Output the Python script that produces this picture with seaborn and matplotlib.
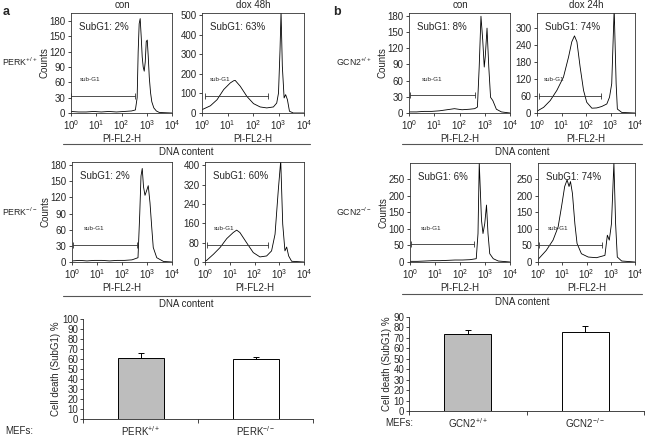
import numpy as np
import matplotlib
matplotlib.use("Agg")
import matplotlib.pyplot as plt
from matplotlib.lines import Line2D
import seaborn as sns

sns.set_style("ticks")
plt.rcParams['font.family'] = ['Liberation Sans', 'DejaVu Sans']
plt.rcParams['mathtext.default'] = 'regular'

W, H = 648, 438

# ---- flow cytometry histograms (x as log10 of PI-FL2-H, y as counts) ----
perk_wt_con_u = [0.0, 0.3, 0.6, 0.9, 1.2, 1.5, 1.8, 2.1, 2.4, 2.55, 2.62, 2.66, 2.70, 2.74,
                 2.78, 2.82, 2.86, 2.90, 2.94, 2.98, 3.02, 3.06, 3.10, 3.15, 3.20, 3.28,
                 3.38, 3.5, 4.0]
perk_wt_con_n = [3, 2, 2, 3, 2, 3, 2, 3, 4, 6, 30, 120, 175, 185,
                 150, 110, 90, 82, 100, 140, 143, 110, 70, 40, 22, 10,
                 4, 1, 0]

perk_wt_dox_u = [0.0, 0.33, 0.59, 0.85, 1.11, 1.24, 1.30, 1.50, 1.76, 2.02, 2.28, 2.54,
                 2.80, 2.93, 3.00, 3.06, 3.10, 3.15, 3.22, 3.28, 3.35, 3.43, 3.58, 4.0]
perk_wt_dox_n = [17, 37, 68, 120, 154, 165, 167, 137, 85, 48, 31, 26,
                 31, 51, 102, 324, 520, 240, 77, 94, 68, 9, 0, 0]

perk_ko_con_u = [0.0, 0.3, 0.6, 0.9, 1.2, 1.5, 1.8, 2.1, 2.4, 2.64, 2.71, 2.76, 2.81,
                 2.86, 2.92, 2.98, 3.05, 3.12, 3.19, 3.25, 3.39, 3.66, 4.0]
perk_ko_con_n = [2, 3, 2, 3, 3, 2, 3, 3, 4, 8, 90, 160, 174,
                 140, 124, 132, 142, 110, 64, 27, 8, 1, 0]

perk_ko_dox_u = [0.0, 0.07, 0.34, 0.61, 0.88, 1.14, 1.28, 1.41, 1.68, 1.95, 2.22, 2.49,
                 2.69, 2.83, 2.96, 3.06, 3.14, 3.23, 3.30, 3.38, 3.50, 4.0]
perk_ko_dox_n = [4, 7, 32, 60, 97, 122, 132, 122, 80, 39, 21, 25,
                 46, 115, 296, 420, 157, 46, 62, 25, 3, 0]

gcn_wt_con_u = [0.0, 0.3, 0.6, 0.9, 1.2, 1.5, 1.8, 2.1, 2.4, 2.6, 2.71, 2.78, 2.85,
                2.92, 2.98, 3.02, 3.09, 3.16, 3.23, 3.32, 3.46, 3.66, 4.0]
gcn_wt_con_n = [2, 2, 3, 3, 4, 6, 8, 6, 7, 8, 11, 85, 179,
                135, 85, 104, 157, 85, 29, 23, 7, 2, 0]

gcn_wt_dox_u = [0.0, 0.03, 0.27, 0.54, 0.81, 1.08, 1.29, 1.42, 1.53, 1.63, 1.76, 1.90,
                2.03, 2.24, 2.44, 2.64, 2.85, 2.96, 3.05, 3.15, 3.23, 3.28, 3.46, 4.0]
gcn_wt_dox_n = [5, 8, 20, 44, 80, 127, 199, 252, 273, 252, 163, 80,
                38, 17, 18, 23, 32, 56, 104, 370, 104, 14, 2, 0]

gcn_ko_con_u = [0.0, 0.3, 0.6, 0.9, 1.2, 1.5, 1.8, 2.1, 2.4, 2.65, 2.72, 2.77, 2.86,
                2.92, 2.99, 3.06, 3.12, 3.19, 3.33, 3.53, 4.0]
gcn_ko_con_n = [2, 2, 3, 4, 4, 5, 6, 6, 7, 10, 86, 300, 126,
                86, 116, 172, 86, 25, 10, 3, 0]

gcn_ko_dox_u = [0.0, 0.03, 0.34, 0.62, 0.83, 0.97, 1.10, 1.20, 1.28, 1.34, 1.42, 1.52,
                1.61, 1.79, 2.07, 2.41, 2.76, 2.86, 2.94, 3.03, 3.13, 3.20, 3.27, 3.45, 4.0]
gcn_ko_dox_n = [6, 10, 35, 66, 106, 167, 228, 248, 228, 243, 207, 116,
                56, 25, 15, 13, 20, 81, 66, 116, 300, 116, 15, 3, 0]

# sub-G1 gates: (left log10, right log10, counts)
perk_wt_con_gate = [0.0, 2.54, 33]
perk_wt_dox_gate = [0.13, 2.6, 85]
perk_ko_con_gate = [0.03, 2.58, 31]
perk_ko_dox_gate = [0.07, 2.56, 69]
gcn_wt_con_gate = [0.04, 2.6, 34]
gcn_wt_dox_gate = [0.07, 2.6, 60]
gcn_ko_con_gate = [0.03, 2.55, 53]
gcn_ko_dox_gate = [0.03, 2.62, 50]

# ---- bar charts ----
perk_labels = ['PERK$^{+/+}$', 'PERK$^{-/-}$']
perk_death = [61.5, 60.0]
perk_err = [4.5, 2.5]
gcn_labels = ['GCN2$^{+/+}$', 'GCN2$^{-/-}$']
gcn_death = [73.5, 76.0]
gcn_err = [4.5, 5.0]

fig = plt.figure(figsize=(W / 100, H / 100), dpi=100)


def px_axes(x0, y0, x1, y1):
    return fig.add_axes([x0 / W, 1 - y1 / H, (x1 - x0) / W, (y1 - y0) / H])


def hist_panel(box, u, n, ymax, ystep, gate, subg1, lab_x, counts=False):
    ax = px_axes(*box)
    sns.lineplot(x=10 ** np.array(u), y=n, ax=ax, color='black', lw=0.6,
                 estimator=None, sort=False)
    ax.set_xscale('log')
    ax.set_xlim(1, 1e4)
    ax.set_ylim(0, ymax)
    ax.set_xticks([1, 10, 100, 1000, 10000])
    ax.xaxis.set_minor_locator(matplotlib.ticker.NullLocator())
    ax.set_yticks(np.arange(0, ymax, ystep))
    ax.tick_params(labelsize=7, length=2.5, width=0.6, pad=1.5)
    for s in ax.spines.values():
        s.set_linewidth(0.6)
        s.set_color('#333333')
    ax.set_xlabel('PI-FL2-H', fontsize=7, labelpad=1)
    ax.set_ylabel('Counts' if counts else '', fontsize=7, labelpad=0)
    ax.plot([10 ** gate[0], 10 ** gate[1]], [gate[2], gate[2]], color='#333333',
            lw=0.6, marker='|', markersize=5, markeredgewidth=0.6)
    ax.text(lab_x, 0.31, 'sub-G1', transform=ax.transAxes, fontsize=4.5, va='bottom')
    ax.text(0.08, 0.86, 'SubG1: ' + subg1, transform=ax.transAxes, fontsize=7,
            va='center')
    return ax


hist_panel((71, 13, 172, 113), perk_wt_con_u, perk_wt_con_n, 196, 30, perk_wt_con_gate, '2%', 0.09, True)
hist_panel((202, 13, 304, 113), perk_wt_dox_u, perk_wt_dox_n, 512, 100, perk_wt_dox_gate, '63%', 0.075)
hist_panel((72, 162, 172, 262), perk_ko_con_u, perk_ko_con_n, 186, 30, perk_ko_con_gate, '2%', 0.12, True)
hist_panel((205, 162, 304, 262), perk_ko_dox_u, perk_ko_dox_n, 414, 80, perk_ko_dox_gate, '60%', 0.085)
hist_panel((409, 13, 510, 113), gcn_wt_con_u, gcn_wt_con_n, 185, 30, gcn_wt_con_gate, '8%', 0.13, True)
hist_panel((537, 13, 635, 113), gcn_wt_dox_u, gcn_wt_dox_n, 354, 60, gcn_wt_dox_gate, '74%', 0.07)
hist_panel((410, 163, 510, 262), gcn_ko_con_u, gcn_ko_con_n, 299, 50, gcn_ko_con_gate, '6%', 0.11, True)
hist_panel((538, 163, 635, 262), gcn_ko_dox_u, gcn_ko_dox_n, 299, 50, gcn_ko_dox_gate, '74%', 0.10)


def ftext(x, y, s, **kw):
    fig.text(x / W, 1 - y / H, s, **kw)


def fline(x0, x1, y):
    fig.add_artist(Line2D([x0 / W, x1 / W], [1 - y / H, 1 - y / H], color='#555555',
                          lw=0.8, transform=fig.transFigure))


ftext(3, 12, 'a', fontsize=9, fontweight='bold', va='center')
ftext(333, 12, 'b', fontsize=9, fontweight='bold', va='center')
for x, s in [(122, 'con'), (253, 'dox 48h'), (460, 'con'), (586, 'dox 24h')]:
    ftext(x, 5, s, fontsize=7, ha='center', va='center')
ftext(2, 62, 'PERK$^{+/+}$', fontsize=6.3, va='center')
ftext(2, 212, 'PERK$^{-/-}$', fontsize=6.3, va='center')
ftext(336, 62, 'GCN2$^{+/+}$', fontsize=6.3, va='center')
ftext(336, 212, 'GCN2$^{-/-}$', fontsize=6.3, va='center')

for x0, x1, xc, y in [(63, 310, 186, 144), (63, 310, 186, 296),
                      (402, 642, 522, 144), (402, 642, 522, 294)]:
    fline(x0, x1, y)
    ftext(xc, y + 8, 'DNA content', fontsize=7, ha='center', va='center')


def bar_panel(box, labels, vals, errs, ymax):
    ax = px_axes(*box)
    sns.barplot(x=labels, y=vals, hue=labels, palette=['#bdbdbd', 'white'],
                legend=False, width=0.4, edgecolor='black', linewidth=0.7, ax=ax)
    ax.errorbar(x=[0, 1], y=vals, yerr=[[0, 0], errs], fmt='none', ecolor='black',
                elinewidth=0.7, capsize=2, capthick=0.7)
    ax.set_xlim(-0.5, 1.5)
    ax.set_ylim(0, ymax)
    ax.set_yticks(np.arange(0, ymax + 1, 10))
    ax.set_xticks([-0.5, 0.5, 1.5], minor=True)
    ax.tick_params(axis='x', which='major', length=0, pad=4, labelsize=7)
    ax.tick_params(axis='x', which='minor', length=3, width=0.6)
    ax.tick_params(axis='y', labelsize=7, length=2.5, width=0.6, pad=1)
    sns.despine(ax=ax)
    for s in ax.spines.values():
        s.set_linewidth(0.6)
    ax.set_ylabel('Cell death (SubG1) %', fontsize=7, labelpad=1)
    ax.set_xlabel('')
    return ax


bar_panel((83, 319, 313, 419), perk_labels, perk_death, perk_err, 100)
bar_panel((409, 317, 644, 411), gcn_labels, gcn_death, gcn_err, 90)
ftext(5, 431, 'MEFs:', fontsize=7, va='center')
ftext(385, 423, 'MEFs:', fontsize=7, va='center')

fig.savefig('out.png', dpi=100, facecolor='white')
